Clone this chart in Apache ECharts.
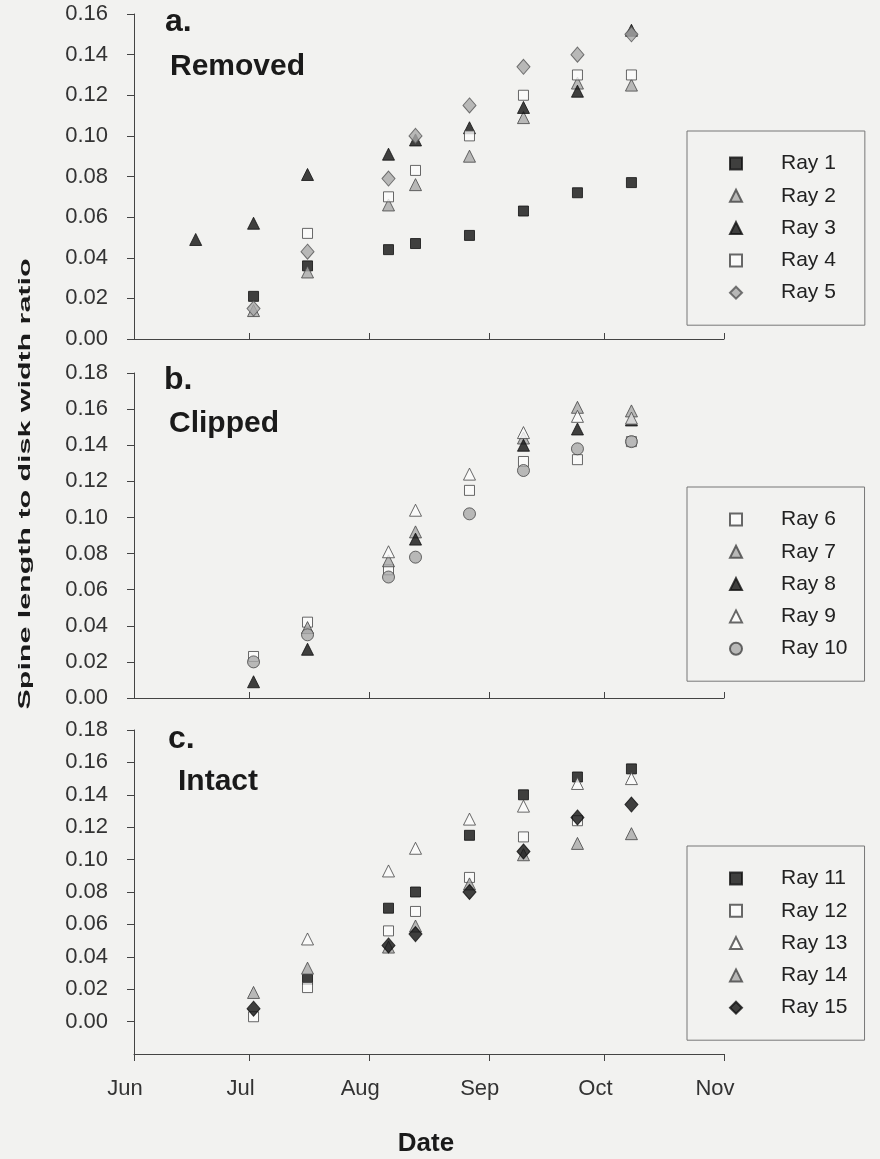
<!DOCTYPE html>
<html>
<head>
<meta charset="utf-8">
<script src="https://cdn.jsdelivr.net/npm/echarts@6/dist/echarts.min.js"></script>
<style>
  html, body { margin: 0; padding: 0; background: #f2f2f0; }
  #chart { width: 880px; height: 1159px; }
</style>
</head>
<body>
<div id="chart"></div>
<script>
// Sampling dates, in days since 1 June
const sampleDays = [16, 31, 45, 66, 73, 87, 101, 115, 129];
// Month ticks (days since 1 June) and their labels
const monthTicks = [0, 30, 61, 92, 122, 153];
const monthLabels = ['Jun', 'Jul', 'Aug', 'Sep', 'Oct', 'Nov'];
// Y tick values
const yTicksA = [0, 0.02, 0.04, 0.06, 0.08, 0.10, 0.12, 0.14, 0.16];
const yTicksB = [0, 0.02, 0.04, 0.06, 0.08, 0.10, 0.12, 0.14, 0.16, 0.18];
const yTicksC = [0, 0.02, 0.04, 0.06, 0.08, 0.10, 0.12, 0.14, 0.16, 0.18];

// Panel a: Removed
const ray1 = [null, 0.021, 0.036, 0.044, 0.047, 0.051, 0.063, 0.072, 0.077];
const ray2 = [null, 0.014, 0.033, 0.066, 0.076, 0.090, 0.109, 0.126, 0.125];
const ray3 = [0.049, 0.057, 0.081, 0.091, 0.098, 0.104, 0.114, 0.122, 0.152];
const ray4 = [null, null, 0.052, 0.070, 0.083, 0.100, 0.120, 0.130, 0.130];
const ray5 = [null, 0.015, 0.043, 0.079, 0.100, 0.115, 0.134, 0.140, 0.150];
// Panel b: Clipped
const ray6 = [null, 0.023, 0.042, 0.071, null, 0.115, 0.131, 0.132, 0.142];
const ray7 = [null, null, 0.039, 0.076, 0.092, null, 0.144, 0.161, 0.159];
const ray8 = [null, 0.009, 0.027, null, 0.088, null, 0.140, 0.149, 0.154];
const ray9 = [null, null, null, 0.081, 0.104, 0.124, 0.147, 0.156, 0.155];
const ray10 = [null, 0.020, 0.035, 0.067, 0.078, 0.102, 0.126, 0.138, 0.142];
// Panel c: Intact
const ray11 = [null, null, 0.026, 0.070, 0.080, 0.115, 0.140, 0.151, 0.156];
const ray12 = [null, 0.003, 0.021, 0.056, 0.068, 0.089, 0.114, 0.124, null];
const ray13 = [null, null, 0.051, 0.093, 0.107, 0.125, 0.133, 0.147, 0.150];
const ray14 = [null, 0.018, 0.033, 0.046, 0.059, 0.085, 0.103, 0.110, 0.116];
const ray15 = [null, 0.008, null, 0.047, 0.054, 0.080, 0.105, 0.126, 0.134];

const FONT = "'Liberation Sans', Arial, sans-serif";
const AXIS = '#444';

const styles = {
  blackSquare: { symbol: 'rect', symbolSize: 10, itemStyle: { color: '#111', borderColor: '#111', borderWidth: 1 } },
  whiteSquare: { symbol: 'rect', symbolSize: 10, itemStyle: { color: '#fbfbfb', borderColor: '#444', borderWidth: 1 } },
  blackTri:    { symbol: 'triangle', symbolSize: 12, itemStyle: { color: '#111', borderColor: '#111', borderWidth: 1 } },
  grayTri:     { symbol: 'triangle', symbolSize: 12, itemStyle: { color: '#a9a9a9', borderColor: '#444', borderWidth: 1 } },
  whiteTri:    { symbol: 'triangle', symbolSize: 12, itemStyle: { color: '#fbfbfb', borderColor: '#444', borderWidth: 1 } },
  grayDiamond: { symbol: 'diamond', symbolSize: [13, 15], itemStyle: { color: '#a9a9a9', borderColor: '#555', borderWidth: 1 } },
  blackDiamond:{ symbol: 'diamond', symbolSize: [13, 15], itemStyle: { color: '#111', borderColor: '#111', borderWidth: 1 } },
  grayCircle:  { symbol: 'circle', symbolSize: 12, itemStyle: { color: '#a9a9a9', borderColor: '#444', borderWidth: 1 } }
};

function mk(name, vals, style, idx) {
  const data = [];
  sampleDays.forEach((d, i) => { if (vals[i] != null) data.push([d, vals[i]]); });
  return Object.assign({ name, type: 'scatter', xAxisIndex: idx, yAxisIndex: idx, data }, style);
}

const series = [
  mk('Ray 1', ray1, styles.blackSquare, 0),
  mk('Ray 2', ray2, styles.grayTri, 0),
  mk('Ray 3', ray3, styles.blackTri, 0),
  mk('Ray 4', ray4, styles.whiteSquare, 0),
  mk('Ray 5', ray5, styles.grayDiamond, 0),
  mk('Ray 6', ray6, styles.whiteSquare, 1),
  mk('Ray 7', ray7, styles.grayTri, 1),
  mk('Ray 8', ray8, styles.blackTri, 1),
  mk('Ray 9', ray9, styles.whiteTri, 1),
  mk('Ray 10', ray10, styles.grayCircle, 1),
  mk('Ray 11', ray11, styles.blackSquare, 2),
  mk('Ray 12', ray12, styles.whiteSquare, 2),
  mk('Ray 13', ray13, styles.whiteTri, 2),
  mk('Ray 14', ray14, styles.grayTri, 2),
  mk('Ray 15', ray15, styles.blackDiamond, 2)
];

const grids = [
  { left: 134, width: 590, top: 14, height: 325 },
  { left: 134, width: 590, top: 373, height: 325 },
  { left: 134, width: 590, top: 730, height: 324 }
];

const xAxes = [0, 1, 2].map(i => ({
  type: 'value', gridIndex: i, min: 0, max: 153,
  splitLine: { show: false },
  axisLine: { onZero: false, lineStyle: { color: AXIS, width: 1 } },
  axisTick: { customValues: monthTicks, inside: i < 2, length: i < 2 ? 6 : 7, lineStyle: { color: AXIS } },
  axisLabel: {
    show: i === 2, customValues: monthTicks,
    formatter: v => monthLabels[monthTicks.indexOf(v)],
    fontSize: 22, fontFamily: FONT, color: '#333', margin: 24, padding: [0, 18, 0, 0]
  }
}));

const yCfg = [
  { min: 0, max: 0.16, ticks: yTicksA },
  { min: 0, max: 0.18, ticks: yTicksB },
  { min: -0.02, max: 0.18, ticks: yTicksC }
];
const yAxes = yCfg.map((c, i) => ({
  type: 'value', gridIndex: i, min: c.min, max: c.max, interval: 0.02,
  splitLine: { show: false },
  axisLine: { show: true, onZero: false, lineStyle: { color: AXIS, width: 1 } },
  axisTick: { show: true, customValues: c.ticks, length: 7, lineStyle: { color: AXIS } },
  axisLabel: {
    customValues: c.ticks, formatter: v => v.toFixed(2),
    fontSize: 22, fontFamily: FONT, color: '#333', margin: 26
  }
}));

function legend(names, top, padRight) {
  return {
    data: names, orient: 'vertical', left: 687, top: top,
    padding: [22, padRight, 22, 42], itemGap: 11.3, itemWidth: 12, itemHeight: 12,
    borderColor: '#777', borderWidth: 1, selectedMode: false,
    textStyle: { fontSize: 21, fontFamily: FONT, color: '#222', padding: [0, 0, 0, 34], lineHeight: 21 }
  };
}

const labelText = (x, y, text, size) => ({
  type: 'text', x: x, y: y,
  style: { text: text, font: 'bold ' + size + 'px ' + FONT, fill: '#1a1a1a', align: 'left', verticalAlign: 'middle' }
});

const option = {
  backgroundColor: '#f2f2f0',
  animation: false,
  grid: grids,
  xAxis: xAxes,
  yAxis: yAxes,
  legend: [
    legend(['Ray 1', 'Ray 2', 'Ray 3', 'Ray 4', 'Ray 5'], 131, 29),
    legend(['Ray 6', 'Ray 7', 'Ray 8', 'Ray 9', 'Ray 10'], 487, 17),
    legend(['Ray 11', 'Ray 12', 'Ray 13', 'Ray 14', 'Ray 15'], 846, 17)
  ],
  graphic: [
    labelText(165, 22, 'a.', 32),
    labelText(170, 67, 'Removed', 30),
    labelText(164, 380, 'b.', 32),
    labelText(169, 424, 'Clipped', 30),
    labelText(168, 739, 'c.', 32),
    labelText(178, 782, 'Intact', 30),
    {
      type: 'text', x: 426, y: 1144,
      style: { text: 'Date', font: 'bold 26px ' + FONT, fill: '#1a1a1a', align: 'center', verticalAlign: 'middle' }
    },
    {
      type: 'text', x: 26, y: 484, rotation: Math.PI / 2, scaleX: 1.9,
      style: { text: 'Spine length to disk width ratio', font: 'bold 16px ' + FONT, fill: '#1a1a1a', align: 'center', verticalAlign: 'middle' }
    }
  ],
  series: series
};

const chart = echarts.init(document.getElementById('chart'), null, { renderer: 'canvas' });
chart.setOption(option);
</script>
</body>
</html>
